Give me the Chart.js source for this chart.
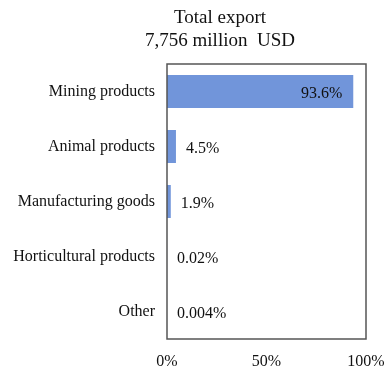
<!DOCTYPE html>
<html><head><meta charset="utf-8">
<script src="https://cdn.jsdelivr.net/npm/chart.js@4.4.0/dist/chart.umd.min.js"></script>
<style>html,body{margin:0;padding:0;background:#fff}#wrap{width:388px;height:366px}</style>
</head><body><div id="wrap"><canvas id="c" width="388" height="366"></canvas></div>
<script>
const categories = ["Mining products","Animal products","Manufacturing goods","Horticultural products","Other"];
const shares = [93.6, 4.5, 1.9, 0.02, 0.004];
const shareLabels = ["93.6%","4.5%","1.9%","0.02%","0.004%"];
const titleLines = ["Total export","7,756 million  USD"];
const xTicks = [0, 50, 100];

const FONT = "'Liberation Serif', 'Times New Roman', serif";

const boxAndLabels = {
  id: 'boxAndLabels',
  afterDraw(chart) {
    const ctx = chart.ctx, a = chart.chartArea;
    const xs = chart.scales.x, ys = chart.scales.y;
    ctx.save();
    ctx.strokeStyle = '#555';
    ctx.lineWidth = 1.5;
    ctx.strokeRect(a.left, a.top, a.right - a.left, a.bottom - a.top);
    // title
    ctx.fillStyle = '#111';
    ctx.font = '19px ' + FONT;
    ctx.textAlign = 'center';
    ctx.textBaseline = 'middle';
    titleLines.forEach((t, i) => ctx.fillText(t, 220, 18 + i * 23));
    // value labels
    ctx.font = '16px ' + FONT;
    shares.forEach((v, i) => {
      const xe = xs.getPixelForValue(v);
      const y = ys.getPixelForValue(i) + 2;
      if (v > 50) { ctx.textAlign = 'right'; ctx.fillText(shareLabels[i], xe - 11, y); }
      else { ctx.textAlign = 'left'; ctx.fillText(shareLabels[i], Math.max(xe, a.left) + 10, y); }
    });
    ctx.restore();
  }
};

new Chart(document.getElementById('c'), {
  type: 'bar',
  data: { labels: categories, datasets: [{ data: shares, backgroundColor: '#7195da', borderWidth: 0, barPercentage: 0.6, categoryPercentage: 1 }] },
  options: {
    indexAxis: 'y', responsive: false, animation: false,
    layout: { padding: { left: 0, right: 22, top: 64, bottom: 0 } },
    plugins: { legend: { display: false }, tooltip: { enabled: false }, title: { display: false } },
    scales: {
      x: {
        min: 0, max: 100,
        grid: { display: false, drawTicks: false }, border: { display: false },
        afterBuildTicks(s) { s.ticks = xTicks.map(v => ({ value: v })); },
        afterFit(s) { s.height = 27; s.paddingLeft = 0; s.paddingRight = 0; },
        ticks: { padding: 13, color: '#111', font: { family: FONT, size: 16 }, callback: v => v + '%', maxRotation: 0 }
      },
      y: {
        grid: { display: false, drawTicks: false }, border: { display: false },
        afterFit(s) { s.width = 167; s.paddingTop = 0; s.paddingBottom = 0; },
        ticks: { padding: 12, color: '#111', font: { family: FONT, size: 16 } }
      }
    }
  },
  plugins: [boxAndLabels]
});
</script></body></html>
